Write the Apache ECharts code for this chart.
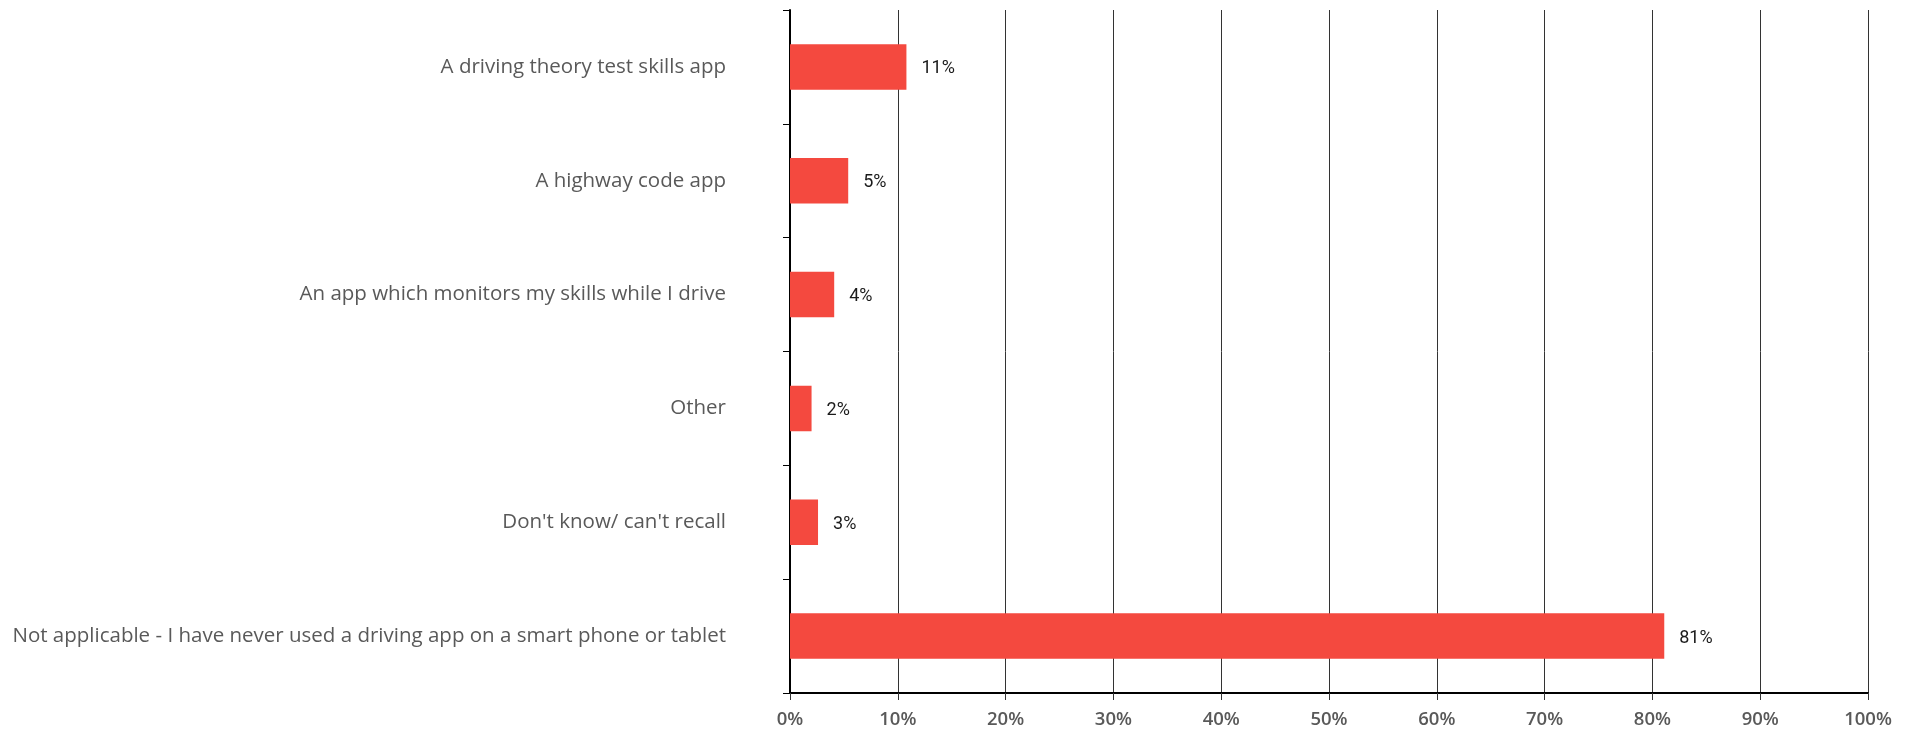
<!DOCTYPE html>
<html>
<head>
<meta charset="utf-8">
<script src="https://cdn.jsdelivr.net/npm/echarts@6/dist/echarts.min.js"></script>
<style>
html,body{margin:0;padding:0;background:#fff;}
#chart{width:1914px;height:731px;}
</style>
</head>
<body>
<div id="chart"></div>
<script>
const categories = [
  "A driving theory test skills app",
  "A highway code app",
  "An app which monitors my skills while I drive",
  "Other",
  "Don't know/ can't recall",
  "Not applicable - I have never used a driving app on a smart phone or tablet"
];
const values = [10.8, 5.4, 4.1, 2.0, 2.6, 81.1];

const chart = echarts.init(document.getElementById('chart'));
chart.setOption({
  animation: false,
  grid: {left: 790, right: 46, top: 10, bottom: 38, containLabel: false},
  xAxis: {
    type: 'value', min: 0, max: 100, interval: 10,
    axisLine: {show: true, lineStyle: {color: '#000', width: 2}},
    axisTick: {show: true, length: 7, lineStyle: {color: '#333', width: 1}},
    splitLine: {show: true, lineStyle: {color: '#333', width: 1}},
    axisLabel: {formatter: '{value}%', color: '#595959', fontFamily: 'Open Sans', fontSize: 18.5, fontWeight: 600, margin: 17}
  },
  yAxis: {
    type: 'category', data: categories, inverse: true,
    axisLine: {show: true, lineStyle: {color: '#000', width: 2}},
    axisTick: {show: true, length: 7, alignWithLabel: false, lineStyle: {color: '#000', width: 1}},
    axisLabel: {color: '#595959', fontFamily: 'Open Sans', fontSize: 20.5, margin: 64}
  },
  series: [{
    type: 'bar', data: values, barWidth: '40%',
    itemStyle: {color: '#F4493F'},
    label: {show: true, position: 'right', distance: 15, offset: [0, 2], color: '#1a1a1a', fontFamily: 'Roboto', fontSize: 18,
      formatter: p => Math.round(p.value) + '%'}
  }]
});
</script>
</body>
</html>
